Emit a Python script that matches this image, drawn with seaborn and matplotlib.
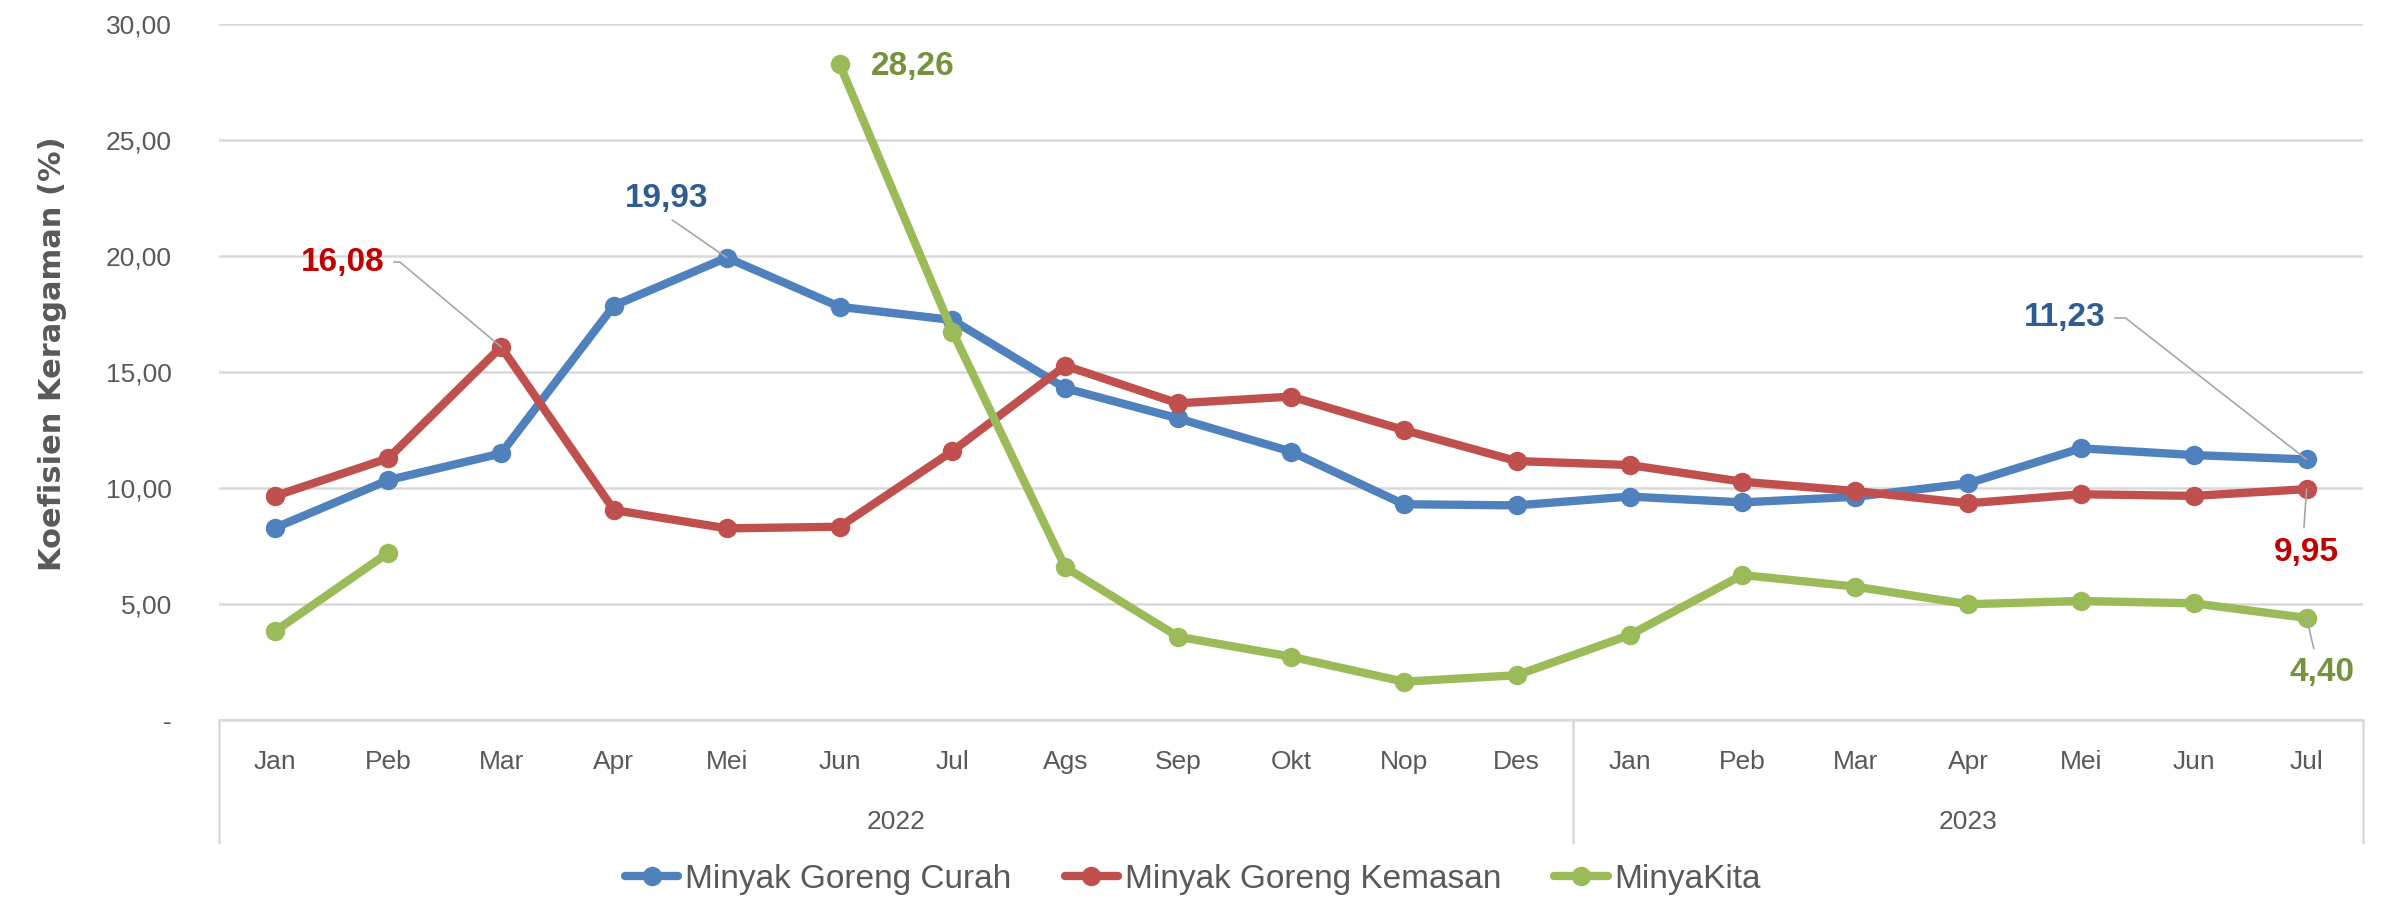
import numpy as np
import pandas as pd
import matplotlib
matplotlib.use('Agg')
import matplotlib.pyplot as plt
import matplotlib.transforms as mtransforms
from matplotlib.ticker import FuncFormatter
import seaborn as sns

# Data
months = ['Jan', 'Peb', 'Mar', 'Apr', 'Mei', 'Jun', 'Jul', 'Ags', 'Sep', 'Okt', 'Nop', 'Des',
          'Jan', 'Peb', 'Mar', 'Apr', 'Mei', 'Jun', 'Jul']
years = ['2022', '2023']
year_len = [12, 7]

curah = [8.29, 10.34, 11.49, 17.86, 19.93, 17.81, 17.24, 14.30, 13.00, 11.57, 9.30, 9.25,
         9.63, 9.38, 9.62, 10.20, 11.71, 11.42, 11.23]
kemasan = [9.66, 11.28, 16.08, 9.05, 8.26, 8.33, 11.59, 15.27, 13.65, 13.94, 12.50, 11.16,
           10.99, 10.27, 9.87, 9.34, 9.73, 9.66, 9.95]
minyakita = [3.84, 7.21, np.nan, np.nan, np.nan, 28.26, 16.74, 6.58, 3.59, 2.73, 1.65, 1.93,
             3.66, 6.25, 5.75, 4.99, 5.13, 5.03, 4.40]

series_names = ['Minyak Goreng Curah', 'Minyak Goreng Kemasan', 'MinyaKita']
line_colors = ['#4F81BD', '#C0504D', '#9BBB59']
label_colors = ['#2F5D91', '#C00000', '#76923C']

sns.set_style('white')
plt.rcParams['font.family'] = ['Liberation Sans', 'DejaVu Sans']
grey_text = '#595959'

df = pd.DataFrame({'idx': np.arange(len(months)), 'month': months,
                   series_names[0]: curah, series_names[1]: kemasan, series_names[2]: minyakita})

fig = plt.figure(figsize=(23.86, 8.99), dpi=100)
ax = fig.add_axes([219 / 2386, 1 - 720 / 899, (2363 - 219) / 2386, (720 - 24) / 899])

handles = []
for name, col in zip(series_names, line_colors):
    y = df[name].to_numpy()
    ok = ~np.isnan(y)
    # split into contiguous runs so gaps are not bridged
    runs = []
    start = None
    for i, v in enumerate(ok):
        if v and start is None:
            start = i
        if not v and start is not None:
            runs.append((start, i))
            start = None
    if start is not None:
        runs.append((start, len(y)))
    for k, (a, b) in enumerate(runs):
        sub = df.iloc[a:b]
        sns.lineplot(data=sub, x='idx', y=name, ax=ax, color=col, lw=6, marker='o',
                     markersize=14, markeredgewidth=0, legend=False)
        if k == 0:
            handles.append(ax.get_lines()[-1])

ax.set_xlim(-0.5, len(months) - 0.5)
ax.set_ylim(0, 30)
ax.set_yticks(np.arange(0, 31, 5))
ax.yaxis.set_major_formatter(FuncFormatter(
    lambda v, p: '-' if v == 0 else f'{v:.2f}'.replace('.', ',')))
ax.tick_params(axis='y', length=0, pad=34, labelsize=19, labelcolor=grey_text)
ax.set_xticks([])
ax.set_xlabel('')
ax.set_ylabel('')
ax.yaxis.grid(True, color='#D9D9D9', lw=1.8)
ax.set_axisbelow(True)
for s in ['top', 'right', 'left']:
    ax.spines[s].set_visible(False)
ax.spines['bottom'].set_color('#D9D9D9')
ax.spines['bottom'].set_linewidth(1.8)

# two-level category axis
trans = mtransforms.blended_transform_factory(ax.transData, ax.transAxes)
for i, m in enumerate(months):
    ax.text(i, -0.060, m, transform=trans, ha='center', va='center', fontsize=19, color=grey_text)
pos = -0.5
for yr, n in zip(years, year_len):
    ax.text(pos + n / 2, -0.147, yr, transform=trans, ha='center', va='center',
            fontsize=19, color=grey_text)
    ax.axvline(pos, ymin=-0.177, ymax=0, clip_on=False, color='#D9D9D9', lw=1.8)
    pos += n
ax.axvline(pos, ymin=-0.177, ymax=0, clip_on=False, color='#D9D9D9', lw=1.8)

fig.text(0.022, 0.607, 'Koefisien Keragaman (%)', rotation=90, ha='center', va='center',
         fontsize=22, fontweight='bold', color=grey_text, family='DejaVu Sans')

# data labels
lead = dict(arrowstyle='-', color='#A6A6A6', lw=1.2)
lab_kw = dict(fontsize=24, fontweight='bold', ha='center', va='center')
ax.annotate('16,08', xy=(2, kemasan[2]), xytext=(0.60, 19.74), color=label_colors[1],
            arrowprops=dict(lead, relpos=(1, 0.5), shrinkA=4, shrinkB=0,
                            connectionstyle='angle,angleA=0,angleB=-40,rad=0'), **lab_kw)
ax.annotate('19,93', xy=(4, curah[4]), xytext=(3.47, 22.5), color=label_colors[0],
            arrowprops=dict(lead, relpos=(0.45, 0), shrinkA=4, shrinkB=0), **lab_kw)
ax.text(5.28, 28.15, '28,26', color='#76923C', fontsize=24, fontweight='bold',
        ha='left', va='center')
ax.annotate('11,23', xy=(18, curah[18]), xytext=(15.86, 17.33), color=label_colors[0],
            arrowprops=dict(lead, relpos=(1, 0.5), shrinkA=4, shrinkB=0,
                            connectionstyle='angle,angleA=0,angleB=-38,rad=0'), **lab_kw)
ax.annotate('9,95', xy=(18, kemasan[18]), xytext=(18.0, 7.24), color=label_colors[1],
            arrowprops=dict(lead, relpos=(0.45, 1), shrinkA=4, shrinkB=0), **lab_kw)
ax.annotate('4,40', xy=(18, minyakita[18]), xytext=(18.14, 2.03), color=label_colors[2],
            arrowprops=dict(lead, relpos=(0.4, 1), shrinkA=4, shrinkB=0), **lab_kw)

leg = fig.legend(handles, series_names, loc='center', bbox_to_anchor=(0.5, 0.022), ncol=3,
                 frameon=False, fontsize=24, handlelength=1.6, handletextpad=0.2,
                 columnspacing=1.6)
for t in leg.get_texts():
    t.set_color(grey_text)

fig.savefig('out.png', dpi=100)
